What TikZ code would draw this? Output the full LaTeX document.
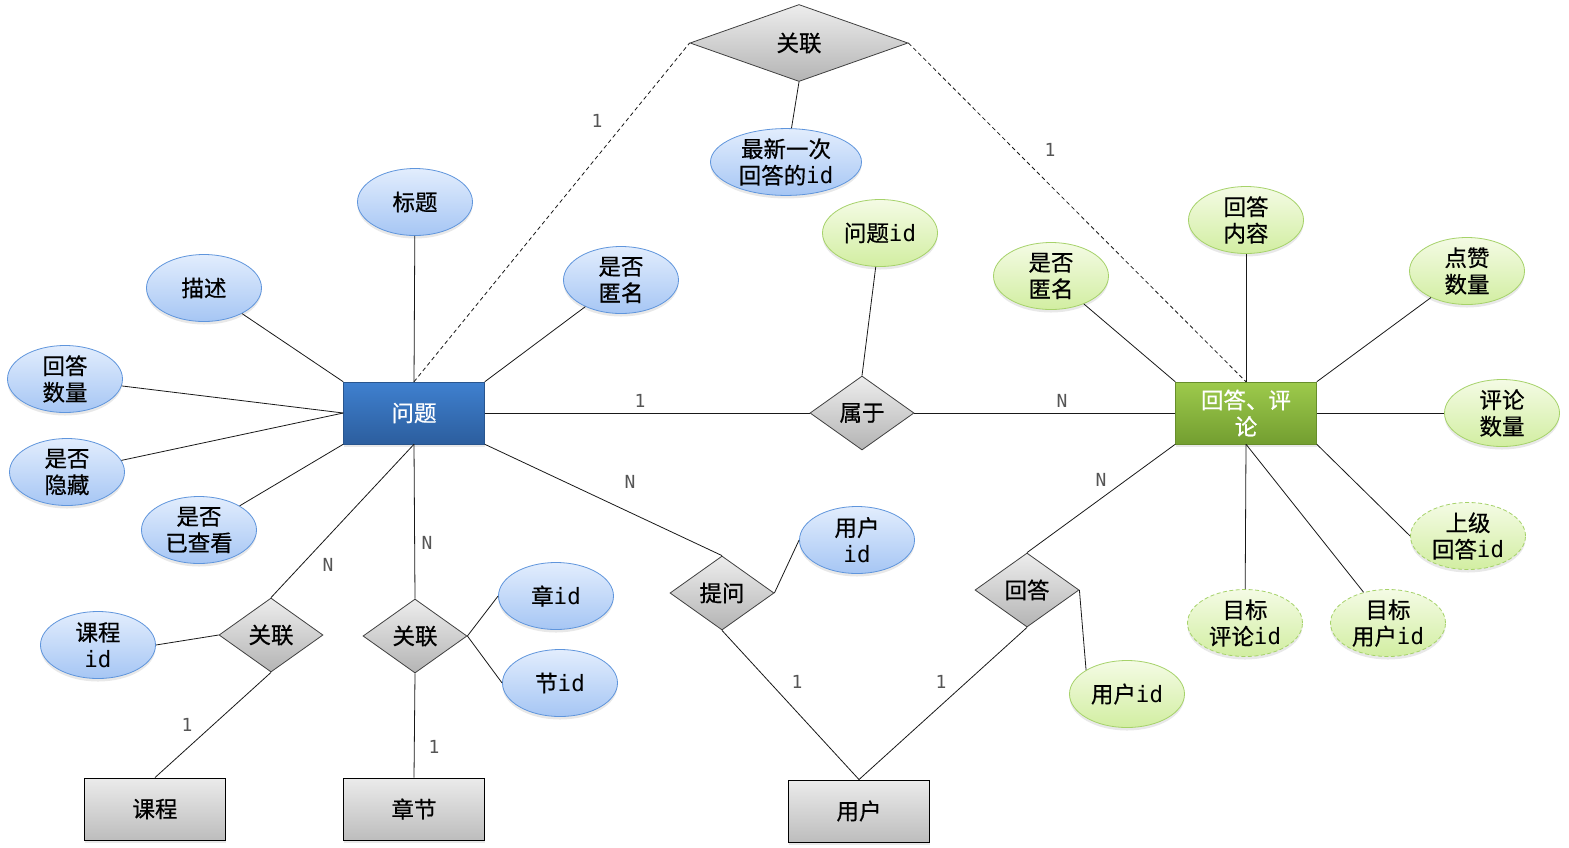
\documentclass[tikz,border=0pt]{standalone}
\usepackage{fontspec}
\setmainfont[FakeBold=0.6]{Noto Sans CJK SC}
\setmonofont{DejaVu Sans Mono}
\usetikzlibrary{shapes.geometric,shadows}
\definecolor{blueT}{HTML}{E2EDFD}
\definecolor{blueB}{HTML}{A6C6F4}
\definecolor{blueBd}{HTML}{5F95DC}
\definecolor{greenT}{HTML}{F4FBE4}
\definecolor{greenB}{HTML}{D2EEA2}
\definecolor{greenBd}{HTML}{A6D26A}
\definecolor{diaT}{HTML}{EDEDED}
\definecolor{diaB}{HTML}{B4B4B4}
\definecolor{grayT}{HTML}{EBEBEB}
\definecolor{grayB}{HTML}{BDBDBD}
\definecolor{entBT}{HTML}{3F80CF}
\definecolor{entBB}{HTML}{2C5E9E}
\definecolor{entGT}{HTML}{9DCA4C}
\definecolor{entGB}{HTML}{739E30}
\definecolor{cardc}{HTML}{555555}
\newcommand{\attrfont}{\fontsize{22.5}{26.5}\selectfont}
\newcommand{\cardfont}{\fontsize{18}{20}\selectfont\ttfamily}
\newcommand{\idtxt}{\texttt{id}}
\tikzset{
  softshadow/.style={drop shadow={shadow xshift=0pt, shadow yshift=-3pt, opacity=0.18}},
  attrB/.style={ellipse, draw=blueBd, line width=0.8pt, top color=blueT, bottom color=blueB,
    minimum width=115pt, minimum height=67pt, inner sep=0pt, align=center, font=\attrfont, softshadow},
  attrG/.style={attrB, draw=greenBd, top color=greenT, bottom color=greenB},
  attrGd/.style={attrG, dash pattern=on 4pt off 2.5pt},
  rel/.style={diamond, draw=black!75, line width=0.8pt, top color=diaT, bottom color=diaB,
    minimum width=104pt, minimum height=74pt, inner sep=0pt, aspect=1.4, font=\attrfont},
  ent/.style={rectangle, minimum width=141pt, minimum height=62pt, inner sep=0pt, align=center,
    font=\attrfont, softshadow},
  entBlue/.style={ent, draw=entBB!90!black, line width=0.5pt, top color=entBT, bottom color=entBB, text=white},
  entGreen/.style={ent, draw=entGB!90!black, line width=0.5pt, top color=entGT, bottom color=entGB, text=white},
  entGray/.style={ent, draw=black, line width=0.9pt, top color=grayT, bottom color=grayB},
  conn/.style={line width=0.8pt, draw=black!90},
  dconn/.style={conn, dash pattern=on 4pt off 3pt},
  card/.style={font=\cardfont, text=cardc, inner sep=0pt}
}
\begin{document}
\begin{tikzpicture}[x=1pt,y=-1pt]
\useasboundingbox (0,0) rectangle (1569,847);
\fill[white] (0,0) rectangle (1569,847);

% entities
\node[entBlue] (q) at (414,413) {问题};
\node[entGreen] (a) at (1246,413) {回答、评\\论};
\node[entGray] (course) at (155,809) {课程};
\node[entGray] (chap) at (414,809) {章节};
\node[entGray] (user) at (859,811) {用户};

% relationships
\node[rel, minimum width=218pt, minimum height=77pt, aspect=2.8] (rtop) at (799,43) {关联};
\node[rel] (belong) at (862,413) {属于};
\node[rel] (rL) at (271,635) {关联};
\node[rel] (rM) at (415,636) {关联};
\node[rel] (ask) at (722,593) {提问};
\node[rel] (ans) at (1027,590) {回答};

% question attributes
\node[attrB] (title) at (415,202) {标题};
\node[attrB] (desc) at (204,288) {描述};
\node[attrB] (acnt) at (65,379) {回答\\数量};
\node[attrB] (hide) at (67,472) {是否\\隐藏};
\node[attrB] (seen) at (199,530) {是否\\已查看};
\node[attrB] (anonQ) at (621,280) {是否\\匿名};
\node[attrB, minimum width=151pt, minimum height=63pt] (latest) at (786,162) {最新一次\\回答的\idtxt};
\node[attrB] (cid) at (98,645) {课程\\\idtxt};
\node[attrB] (zid) at (556,596) {章\idtxt};
\node[attrB] (jid) at (560,683) {节\idtxt};
\node[attrB] (uidB) at (857,540) {用户\\\idtxt};

% answer attributes
\node[attrG] (qid) at (880,233) {问题\idtxt};
\node[attrG] (anonA) at (1051,276) {是否\\匿名};
\node[attrG] (content) at (1246,220) {回答\\内容};
\node[attrG] (likes) at (1467,271) {点赞\\数量};
\node[attrG] (ccnt) at (1502,413) {评论\\数量};
\node[attrGd] (parent) at (1468,536) {上级\\回答\idtxt};
\node[attrGd] (tcid) at (1245,623) {目标\\评论\idtxt};
\node[attrGd] (tuid) at (1388,623) {目标\\用户\idtxt};
\node[attrG] (uidG) at (1127,694) {用户\idtxt};

% connectors: question
\draw[conn] (title) -- (q.north);
\draw[conn] (desc) -- (q.north west);
\draw[conn] (acnt) -- (q.west);
\draw[conn] (hide) -- (q.west);
\draw[conn] (seen) -- (q.south west);
\draw[conn] (anonQ) -- (q.north east);
\draw[dconn] (q.north) -- (rtop.west);
\draw[dconn] (rtop.east) -- (a.north);
\draw[conn] (rtop.south) -- (latest);
\draw[conn] (q.east) -- (belong.west);
\draw[conn] (belong.east) -- (a.west);
\draw[conn] (belong.north) -- (qid);
\draw[conn] (q.south east) -- (ask.north);
\draw[conn] (ask.east) -- (uidB.west);
\draw[conn] (ask.south) -- (user.north);
\draw[conn] (ans.south) -- (user.north);
\draw[conn] (ans.north) -- (a.south west);
\draw[conn] (ans.east) -- (uidG.north west);
\draw[conn] (q.south) -- (rL.north);
\draw[conn] (q.south) -- (rM.north);
\draw[conn] (cid.east) -- (rL.west);
\draw[conn] (rL.south) -- (course.north);
\draw[conn] (rM.south) -- (chap.north);
\draw[conn] (rM.east) -- (zid.west);
\draw[conn] (rM.east) -- (jid.west);

% connectors: answer
\draw[conn] (anonA) -- (a.north west);
\draw[conn] (content) -- (a.north);
\draw[conn] (likes) -- (a.north east);
\draw[conn] (ccnt) -- (a.east);
\draw[conn] (parent.west) -- (a.south east);
\draw[conn] (tcid) -- (a.south);
\draw[conn] (tuid) -- (a.south);

% cardinalities
\node[card] (k1) at (597,121) {1};
\node[card] (k2) at (1050,150) {1};
\node[card] (k3) at (640,401) {1};
\node[card] (k4) at (1062,401) {N};
\node[card] (k5) at (630,482) {N};
\node[card] (k6) at (328,565) {N};
\node[card] (k7) at (427,543) {N};
\node[card] (k8) at (187,725) {1};
\node[card] (k9) at (434,747) {1};
\node[card] (k10) at (797,682) {1};
\node[card] (k11) at (941,682) {1};
\node[card] (k12) at (1101,480) {N};
\end{tikzpicture}
\end{document}
